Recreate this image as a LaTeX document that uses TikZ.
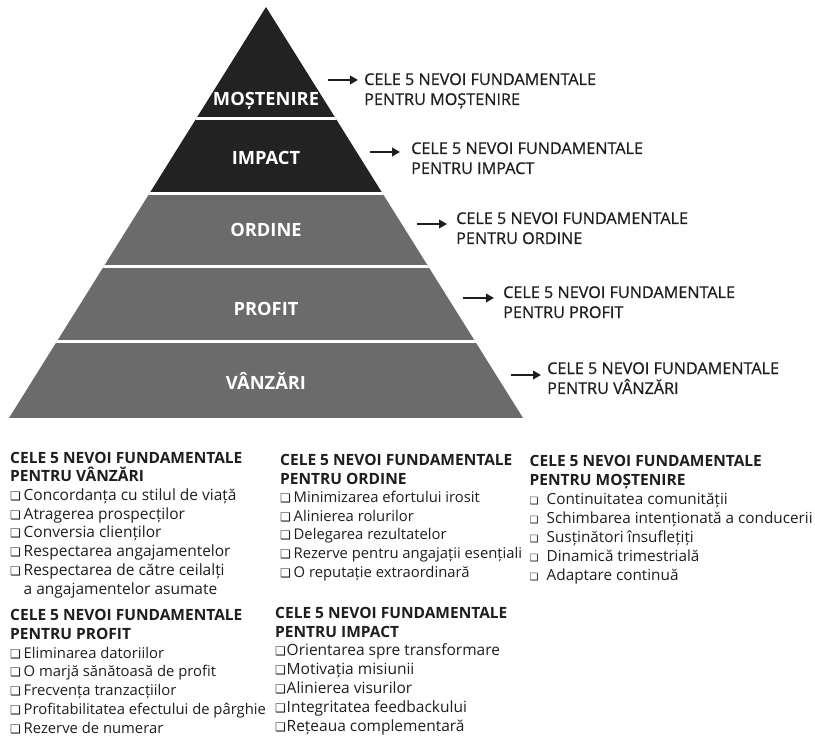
\documentclass[tikz,border=0pt]{standalone}
\usepackage{fontspec}
\setmainfont{Open Sans}
\newfontfamily\dejavu{DejaVu Sans}
\newfontfamily\medfont[FakeBold=0.6]{Open Sans}
\usetikzlibrary{arrows.meta}
\definecolor{dk}{HTML}{222222}
\definecolor{gr}{HTML}{6B6B6B}
\definecolor{tx}{HTML}{1E1E1E}
\newcommand{\cbx}[2]{\makebox[#2pt][l]{\dejavu\fontsize{#1}{#1}\selectfont ❑}}
\begin{document}
\begin{tikzpicture}[x=1pt,y=-1pt,
  lvl/.style={text=white,font=\bfseries\fontsize{18.3}{20}\selectfont,anchor=base,inner sep=0pt},
  side/.style={anchor=base west,align=left,inner sep=0pt,text=tx,font=\medfont\fontsize{16.2}{20}\selectfont},
  block/.style={anchor=base west,align=left,inner sep=0pt,text=tx},
  arr/.style={-{Triangle[length=8pt,width=8.5pt]},line width=2.3pt,draw=tx}]
\useasboundingbox (0,0) rectangle (815,738);
\fill[white] (0,0) rectangle (815,738);
% pyramid
\begin{scope}
\clip (266,7) -- (523,418) -- (9,418) -- cycle;
\fill[dk] (0,0) rectangle (815,193.5);
\fill[gr] (0,193.5) rectangle (815,420);
\draw[white,line width=3pt] (0,118.5) -- (815,118.5);
\draw[white,line width=3pt] (0,193.5) -- (815,193.5);
\draw[white,line width=3pt] (0,266.5) -- (815,266.5);
\draw[white,line width=3pt] (0,341.5) -- (815,341.5);
\end{scope}
\node[lvl] (p1) at (266,106) {MOȘTENIRE};
\node[lvl] (p2) at (266,165) {IMPACT};
\node[lvl] (p3) at (266,237) {ORDINE};
\node[lvl] (p4) at (266,316) {PROFIT};
\node[lvl] (p5) at (266,390) {VÂNZĂRI};
% side labels (base = last line)
\node[side] (l1) at (364,105) {CELE 5 NEVOI FUNDAMENTALE\\PENTRU MOȘTENIRE};
\node[side] (l2) at (411,174) {CELE 5 NEVOI FUNDAMENTALE\\PENTRU IMPACT};
\node[side] (l3) at (456,244) {CELE 5 NEVOI FUNDAMENTALE\\PENTRU ORDINE};
\node[side] (l4) at (503,318) {CELE 5 NEVOI FUNDAMENTALE\\PENTRU PROFIT};
\node[side] (l5) at (547,394) {CELE 5 NEVOI FUNDAMENTALE\\PENTRU VÂNZĂRI};
\coordinate (s1) at (328,80); \coordinate (e1) at (358,80);
\coordinate (s2) at (370,152); \coordinate (e2) at (400,152);
\coordinate (s3) at (417,224); \coordinate (e3) at (447,224);
\coordinate (s4) at (463,298); \coordinate (e4) at (494,298);
\coordinate (s5) at (511,375); \coordinate (e5) at (541,375);
\foreach \i in {1,...,5} \draw[arr] (s\i) -- (e\i);
% lists (base = last line)
\node[block,font=\fontsize{15.5}{18.7}\selectfont] (b1) at (10,594) {{\bfseries CELE 5 NEVOI FUNDAMENTALE}\\{\bfseries PENTRU VÂNZĂRI}\\
\cbx{12}{13.5}Concordanța cu stilul de viață\\
\cbx{12}{13.5}Atragerea prospecților\\
\cbx{12}{13.5}Conversia clienților\\
\cbx{12}{13.5}Respectarea angajamentelor\\
\cbx{12}{13.5}Respectarea de către ceilalți\\
\hspace*{13.5pt}a angajamentelor asumate};
\node[block,font=\fontsize{14.8}{18.7}\selectfont] (b2) at (10,733) {{\fontsize{15.5}{18.7}\selectfont\bfseries CELE 5 NEVOI FUNDAMENTALE}\\{\fontsize{15.5}{18.7}\selectfont\bfseries PENTRU PROFIT}\\
\cbx{12}{13.5}Eliminarea datoriilor\\
\cbx{12}{13.5}O marjă sănătoasă de profit\\
\cbx{12}{13.5}Frecvența tranzacțiilor\\
\cbx{12}{13.5}Profitabilitatea efectului de pârghie\\
\cbx{12}{13.5}Rezerve de numerar};
\node[block,font=\fontsize{14.8}{18.6}\selectfont] (b3) at (280,577) {{\fontsize{15.5}{18.6}\selectfont\bfseries CELE 5 NEVOI FUNDAMENTALE}\\{\fontsize{15.5}{18.6}\selectfont\bfseries PENTRU ORDINE}\\
\cbx{12}{13.5}Minimizarea efortului irosit\\
\cbx{12}{13.5}Alinierea rolurilor\\
\cbx{12}{13.5}Delegarea rezultatelor\\
\cbx{12}{13.5}Rezerve pentru angajații esențiali\\
\cbx{12}{13.5}O reputație extraordinară};
\node[block,font=\fontsize{15.5}{18.8}\selectfont] (b4) at (275,731) {{\bfseries CELE 5 NEVOI FUNDAMENTALE}\\{\bfseries PENTRU IMPACT}\\
\cbx{12}{11.5}Orientarea spre transformare\\
\cbx{12}{11.5}Motivația misiunii\\
\cbx{12}{11.5}Alinierea visurilor\\
\cbx{12}{11.5}Integritatea feedbackului\\
\cbx{12}{11.5}Rețeaua complementară};
\node[block,font=\fontsize{15.3}{19}\selectfont] (b5) at (529.5,580) {{\fontsize{15.5}{19}\selectfont\bfseries CELE 5 NEVOI FUNDAMENTALE}\\{\fontsize{15.5}{19}\selectfont\bfseries PENTRU MOȘTENIRE}\\
\cbx{10}{17}Continuitatea comunității\\
\cbx{10}{17}Schimbarea intenționată a conducerii\\
\cbx{10}{17}Susținători însuflețiți\\
\cbx{10}{17}Dinamică trimestrială\\
\cbx{10}{17}Adaptare continuă};
\end{tikzpicture}
\end{document}
